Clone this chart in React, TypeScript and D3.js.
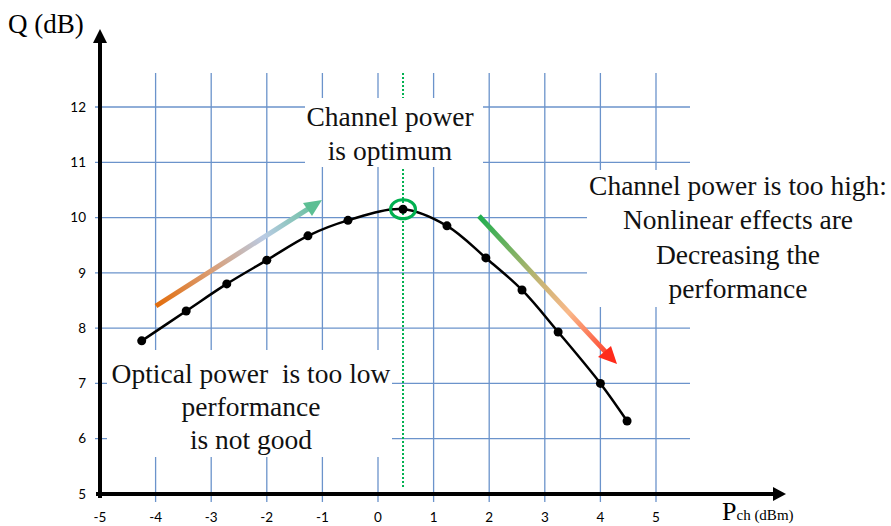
import React, { useEffect, useRef } from "react";
import * as d3 from "d3";

// measured points of the Q vs channel power curve
const pch = [-4.25, -3.45, -2.72, -2.0, -1.26, -0.54, 0.45, 1.24, 1.94, 2.59, 3.24, 4.0, 4.48];
const qdb = [7.77, 8.31, 8.8, 9.23, 9.67, 9.95, 10.15, 9.85, 9.27, 8.69, 7.93, 7.0, 6.32];

const xTicks = [-5, -4, -3, -2, -1, 0, 1, 2, 3, 4, 5];
const yTicks = [5, 6, 7, 8, 9, 10, 11, 12];
const optimumPch = 0.45;

// annotation text
const optimumText = ["Channel power", "is optimum"];
const highText = ["Channel power is too high:", "Nonlinear effects are", "Decreasing the", "performance"];
const lowText = ["Optical power  is too low", "performance", "is not good"];

const App: React.FC = () => {
  const svgRef = useRef<SVGSVGElement>(null);

  const drawChart = () => {
    const width = 891,
      height = 526;
    const svg = d3.select(svgRef.current);
    svg.selectAll("*").remove();
    svg.attr("width", width).attr("height", height);

    const x = d3.scaleLinear().domain([-5, 5]).range([100, 656]);
    const y = d3.scaleLinear().domain([5, 12]).range([494, 107]);

    const defs = svg.append("defs");
    const gradUp = defs
      .append("linearGradient")
      .attr("id", "gradUp")
      .attr("gradientUnits", "userSpaceOnUse")
      .attr("x1", 156).attr("y1", 306).attr("x2", 322).attr("y2", 200);
    gradUp.append("stop").attr("offset", "0").attr("stop-color", "#e36c0a");
    gradUp.append("stop").attr("offset", "0.35").attr("stop-color", "#d9a07a");
    gradUp.append("stop").attr("offset", "0.65").attr("stop-color", "#b9cbe4");
    gradUp.append("stop").attr("offset", "1").attr("stop-color", "#5cbf94");

    const gradDown = defs
      .append("linearGradient")
      .attr("id", "gradDown")
      .attr("gradientUnits", "userSpaceOnUse")
      .attr("x1", 479).attr("y1", 216).attr("x2", 617).attr("y2", 364);
    gradDown.append("stop").attr("offset", "0").attr("stop-color", "#1fae4e");
    gradDown.append("stop").attr("offset", "0.45").attr("stop-color", "#c9b575");
    gradDown.append("stop").attr("offset", "0.65").attr("stop-color", "#f9b98a");
    gradDown.append("stop").attr("offset", "1").attr("stop-color", "#ff2a1a");

    const gridColor = "#6b93cb";

    // grid
    svg
      .append("g")
      .selectAll("line")
      .data(yTicks.filter((d) => d > 5))
      .join("line")
      .attr("x1", 95)
      .attr("x2", 690)
      .attr("y1", (d) => y(d))
      .attr("y2", (d) => y(d))
      .attr("stroke", gridColor)
      .attr("stroke-width", 1.3);
    svg
      .append("g")
      .selectAll("line")
      .data(xTicks.filter((d) => d > -5))
      .join("line")
      .attr("x1", (d) => x(d))
      .attr("x2", (d) => x(d))
      .attr("y1", 73)
      .attr("y2", 502)
      .attr("stroke", gridColor)
      .attr("stroke-width", 1.3);

    // optimum dotted line
    svg
      .append("line")
      .attr("x1", x(optimumPch))
      .attr("x2", x(optimumPch))
      .attr("y1", 73)
      .attr("y2", 487)
      .attr("stroke", "#00b050")
      .attr("stroke-width", 2)
      .attr("stroke-dasharray", "2,2");

    // white text boxes over the grid
    const boxes = [
      { x: 305, y: 98, w: 178, h: 69 },
      { x: 587, y: 170, w: 304, h: 137 },
      { x: 107, y: 350, w: 285, h: 107 },
    ];
    svg
      .append("g")
      .selectAll("rect")
      .data(boxes)
      .join("rect")
      .attr("x", (d) => d.x)
      .attr("y", (d) => d.y)
      .attr("width", (d) => d.w)
      .attr("height", (d) => d.h)
      .attr("fill", "#fff");

    // axes with arrows
    svg
      .append("line")
      .attr("x1", 100).attr("x2", 100)
      .attr("y1", 498).attr("y2", 42)
      .attr("stroke", "#000").attr("stroke-width", 4);
    svg
      .append("path")
      .attr("d", "M93,43 L100,29 L107,43 Z")
      .attr("fill", "#000");
    svg
      .append("line")
      .attr("x1", 96).attr("x2", 774)
      .attr("y1", 494).attr("y2", 494)
      .attr("stroke", "#000").attr("stroke-width", 4);
    svg
      .append("path")
      .attr("d", "M773,487 L786,494 L773,501 Z")
      .attr("fill", "#000");

    // tick labels
    const tickFont = "Lato, 'Open Sans', sans-serif";
    svg
      .append("g")
      .selectAll("text")
      .data(yTicks)
      .join("text")
      .attr("x", 86)
      .attr("y", (d) => y(d))
      .attr("dy", "0.35em")
      .attr("text-anchor", "end")
      .attr("font-family", tickFont)
      .attr("font-size", 13.5)
      .text((d) => d);
    svg
      .append("g")
      .selectAll("text")
      .data(xTicks)
      .join("text")
      .attr("x", (d) => x(d))
      .attr("y", 522)
      .attr("text-anchor", "middle")
      .attr("font-family", tickFont)
      .attr("font-size", 13.5)
      .text((d) => d);

    // axis titles
    const serif = "'Liberation Serif', 'DejaVu Serif', serif";
    svg
      .append("text")
      .attr("x", 8)
      .attr("y", 33)
      .attr("font-family", serif)
      .attr("font-size", 27)
      .text("Q (dB)");
    const px = svg
      .append("text")
      .attr("x", 722)
      .attr("y", 520)
      .attr("font-family", serif)
      .attr("font-size", 26);
    px.append("tspan").text("P");
    px.append("tspan").attr("font-size", 15).text("ch (dBm)");

    // gradient arrows
    svg
      .append("line")
      .attr("x1", 156).attr("y1", 306).attr("x2", 312).attr("y2", 206.4)
      .attr("stroke", "url(#gradUp)").attr("stroke-width", 5);
    svg
      .append("path")
      .attr("d", "M322,200 L303,203 L312,216 Z")
      .attr("fill", "#5cbf94");
    svg
      .append("line")
      .attr("x1", 479).attr("y1", 216).attr("x2", 609).attr("y2", 355.6)
      .attr("stroke", "url(#gradDown)").attr("stroke-width", 5);
    svg
      .append("path")
      .attr("d", "M617,364 L598,357 L611,346 Z")
      .attr("fill", "#ff2a1a");

    // curve
    const pts: [number, number][] = pch.map((p, i) => [p, qdb[i]]);
    const line = d3
      .line<[number, number]>()
      .x((d) => x(d[0]))
      .y((d) => y(d[1]))
      .curve(d3.curveCatmullRom.alpha(0.5));
    svg
      .append("path")
      .attr("d", line(pts))
      .attr("fill", "none")
      .attr("stroke", "#000")
      .attr("stroke-width", 2.5);
    svg
      .append("g")
      .selectAll("circle")
      .data(pts)
      .join("circle")
      .attr("cx", (d) => x(d[0]))
      .attr("cy", (d) => y(d[1]))
      .attr("r", 4.5)
      .attr("fill", "#000");

    // optimum marker
    svg
      .append("ellipse")
      .attr("cx", x(optimumPch))
      .attr("cy", y(10.15))
      .attr("rx", 12.5)
      .attr("ry", 9.5)
      .attr("fill", "none")
      .attr("stroke", "#00b050")
      .attr("stroke-width", 3);

    // annotations
    const block = (lines: string[], cx: number, y0: number, lh: number) => {
      svg
        .append("g")
        .selectAll("text")
        .data(lines)
        .join("text")
        .attr("x", cx)
        .attr("y", (_, i) => y0 + i * lh)
        .attr("text-anchor", "middle")
        .attr("font-family", serif)
        .attr("font-size", 27.5)
        .attr("fill", "#111")
        .style("white-space", "pre")
        .text((d) => d);
    };
    block(optimumText, 390, 126, 34);
    block(highText, 738, 195, 34.3);
    block(lowText, 251, 383, 33);
  };

  useEffect(drawChart, []);

  return (
    <svg
      ref={svgRef}
      style={{ position: "absolute", top: 0, left: 0, display: "block", background: "#fff" }}
    />
  );
};

export default App;
